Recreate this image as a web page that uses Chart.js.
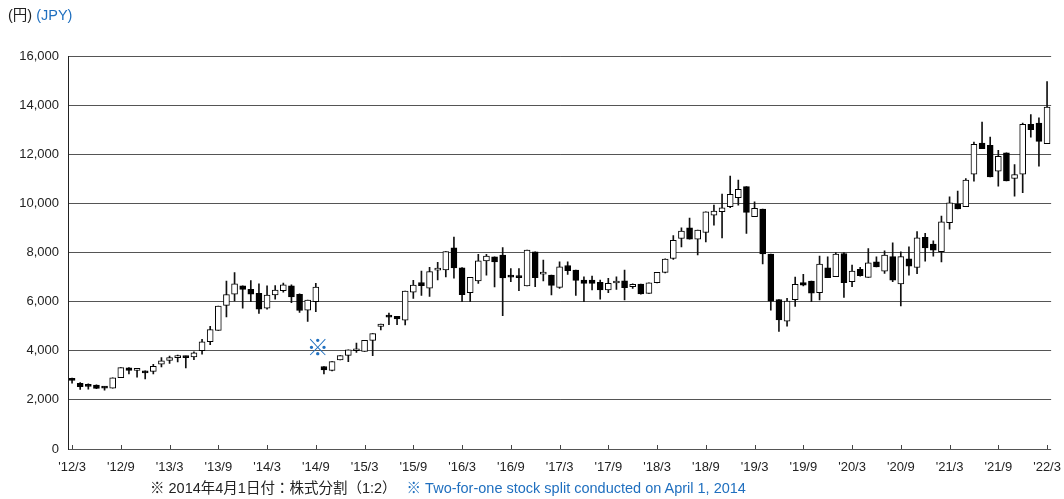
<!DOCTYPE html>
<html><head><meta charset="utf-8">
<script src="https://cdn.jsdelivr.net/npm/chart.js@4.4.1/dist/chart.umd.min.js"></script>
<style>
html,body{margin:0;padding:0;background:#fff;}
#wrap{position:relative;width:1064px;height:499px;overflow:hidden;}
canvas{position:absolute;left:0;top:0;}
.t{position:absolute;font-family:"Liberation Sans",Arial,"Noto Sans CJK JP",sans-serif;font-size:14.5px;white-space:nowrap;color:#222;line-height:16px;}
.b{color:#1f6fbf;}
</style></head>
<body><div id="wrap"><canvas id="c" width="1064" height="499"></canvas>
<div class="t" style="left:8px;top:7px;">(円) <span class="b">(JPY)</span></div>
<div class="t" style="left:150px;top:480px;">※ 2014年4月1日付：株式分割（1:2）<span class="b" style="margin-left:10px">※ Two-for-one stock split conducted on April 1, 2014</span></div>
</div>
<script>
// Monthly categories '12/3 .. '22/3
const months = [];
for (let yy = 2012; yy <= 2022; yy++) {
  for (let mm = 1; mm <= 12; mm++) {
    if ((yy === 2012 && mm < 3) || (yy === 2022 && mm > 3)) continue;
    months.push("'" + String(yy).slice(2) + "/" + mm);
  }
}
const tickLabels = ["'12/3","'12/9","'13/3","'13/9","'14/3","'14/9","'15/3","'15/9","'16/3","'16/9","'17/3","'17/9","'18/3","'18/9","'19/3","'19/9","'20/3","'20/9","'21/3","'21/9","'22/3"];
const yTicks = [0,2000,4000,6000,8000,10000,12000,14000,16000];

const opens = [2880,2675,2560,2600,2540,2480,2900,3300,3200,3170,3160,3450,3610,3720,3730,3750,4000,4370,4830,5850,
 6300,6640,6500,6340,5730,6270,6450,6640,6300,5650,6000,3360,3200,3630,3810,4000,3970,4420,4990,5440,
 5400,5240,6390,6780,6550,7280,7290,8190,7380,6360,6840,7660,7820,7890,7010,6990,6635,8026,7120,7080,
 6580,7470,7283,6878,6878,6783,6473,6760,6851,6608,6716,6338,6770,7190,7756,8570,9003,8544,8816,9523,
 9659,9863,10230,10680,9455,9768,7940,6082,5200,6075,6780,6834,6365,7378,7013,7959,6810,7310,6986,7620,
 7243,7830,6716,7740,7390,8620,8340,8030,9216,9973,9865,11188,12458,12363,11310,12053,11013,11188,13215,13270,
 12431];
const highs = [2890,2700,2650,2610,2545,2900,3310,3310,3270,3180,3450,3720,3780,3820,3780,3960,4470,4990,5820,6840,
 7180,6640,6860,6720,6640,6650,6750,6680,6320,6060,6740,3360,3560,3800,4040,4310,4420,4700,5085,5530,
 5400,6430,6870,7240,7400,7600,8040,8630,7390,6990,7930,7930,7820,8200,7350,7350,8094,8026,7690,7080,
 7620,7620,7283,7013,7040,6878,6946,7013,7283,6720,6716,6770,7190,7740,8690,9000,9400,8911,9659,9931,
 10380,11114,10950,10680,10067,9768,7940,6082,6135,7000,7110,6834,7851,7824,8000,8000,7486,7400,8160,7824,
 8067,8391,8026,8231,8850,8780,8476,9480,10270,10500,11013,12500,13310,12700,12161,12053,11580,13270,13620,13485,
 14960];
const lows = [2680,2430,2440,2460,2400,2480,2900,3060,2920,2850,3060,3340,3480,3550,3300,3640,3860,4250,4830,5380,
 6030,5730,6000,5520,5690,6100,6380,5960,5560,5190,5590,3060,3180,3630,3560,3930,3970,3800,4850,5060,
 5060,5050,6130,6250,6210,6880,7010,6960,6000,6000,6740,7080,6600,5430,6810,6450,6635,6608,6840,6270,
 6540,7108,6250,6000,6473,6095,6365,6500,6068,6540,6300,6330,6760,7170,7714,8230,8544,7905,8435,9115,
 8598,9822,9931,8775,9455,7530,5655,4790,5000,5800,6640,6000,6068,6973,7013,6176,6608,7040,6986,7418,
 7148,6810,5824,7075,7143,7650,7850,7620,8946,9770,9865,10905,12229,11080,10702,10918,10297,10432,12700,11512,
 12431];
const closes = [2790,2540,2550,2470,2480,2900,3310,3200,3210,3100,3370,3590,3720,3740,3720,3920,4360,4860,5820,6290,
 6720,6500,6300,5690,6270,6475,6680,6190,5640,6060,6590,3220,3560,3800,4040,4020,4420,4700,5085,5370,
 5300,6430,6670,6650,7220,7300,8040,7370,6280,6990,7660,7850,7620,6970,7000,6980,8094,6973,7200,6660,
 7418,7256,6865,6743,6743,6473,6743,6780,6567,6700,6311,6770,7190,7730,8500,8868,8544,8911,9659,9686,
 9822,10366,10570,9632,9795,7940,6020,5260,6020,6700,6670,6346,7527,6973,7932,6770,7243,7054,7580,7418,
 7890,6878,7830,7442,8598,8190,8095,9250,10026,9770,10945,12404,12229,11080,11918,10918,11175,13215,12999,12526,
 13917];

const splitIndex = 30;       // '14/9 marker position (category index)
const splitMarkLevel = 4150; // value level of the ※ marker

const bodies = opens.map((o, i) => [o, closes[i]]);
const wicks = lows.map((l, i) => [l, highs[i]]);
const bodyFill = opens.map((o, i) => closes[i] >= o ? '#ffffff' : '#000000');

const FONT = '"Liberation Sans", Arial, sans-serif';
Chart.defaults.font.family = FONT;
Chart.defaults.font.size = 13;
Chart.defaults.color = '#222';

const decor = {
  id: 'decor',
  afterDraw(chart) {
    const {ctx, scales: {x, y}, chartArea} = chart;
    ctx.save();
    ctx.strokeStyle = '#444';
    ctx.lineWidth = 1;
    for (let i = 0; i < months.length; i += 6) {
      const px = Math.round(x.getPixelForValue(i)) + 0.5;
      ctx.beginPath();
      ctx.moveTo(px, chartArea.bottom);
      ctx.lineTo(px, chartArea.bottom - 4);
      ctx.stroke();
    }
    ctx.fillStyle = '#1f6fbf';
    ctx.font = '22px "Noto Sans CJK JP", sans-serif';
    ctx.textAlign = 'center';
    ctx.textBaseline = 'middle';
    ctx.fillText('※', x.getPixelForValue(splitIndex) + 2, y.getPixelForValue(splitMarkLevel));
    ctx.restore();
  }
};

new Chart(document.getElementById('c'), {
  type: 'bar',
  data: {
    labels: months,
    datasets: [
      {data: bodies, backgroundColor: bodyFill, borderColor: '#000', borderWidth: 1, borderSkipped: false,
       barThickness: 6, grouped: false, order: 0, minBarLength: 2},
      {data: wicks, backgroundColor: '#111', borderWidth: 0, barThickness: 1, grouped: false, order: 1}
    ]
  },
  options: {
    responsive: false,
    devicePixelRatio: 1,
    animation: false,
    layout: {padding: {top: 56, right: 11, left: 0, bottom: 0}},
    plugins: {legend: {display: false}, tooltip: {enabled: false}},
    scales: {
      x: {
        type: 'category',
        offset: true,
        grid: {display: false},
        border: {display: false},
        ticks: {
          autoSkip: false, maxRotation: 0, minRotation: 0, padding: 3, color: '#222',
          callback: (v, i) => (i % 6 === 0 ? tickLabels[i / 6] : '')
        },
        afterFit: s => { s.height = 50; }
      },
      y: {
        min: 0, max: 16000,
        afterBuildTicks: s => { s.ticks = yTicks.map(v => ({value: v})); },
        ticks: {padding: 9, color: '#222', callback: v => v.toLocaleString('en-US')},
        grid: {color: '#555', drawTicks: false, lineWidth: 1},
        border: {display: true, color: '#222', width: 1},
        afterFit: s => { s.width = 68; }
      }
    }
  },
  plugins: [decor]
});
</script>
</body></html>
